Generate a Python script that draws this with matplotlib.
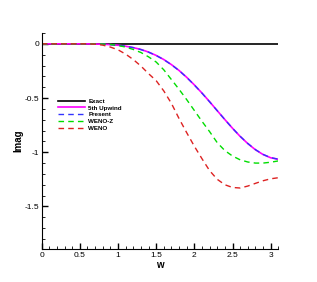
import matplotlib

matplotlib.use("Agg")
import matplotlib.pyplot as plt
from matplotlib.ticker import MultipleLocator, FormatStrFormatter

plt.rcParams["font.family"] = ["Liberation Sans", "DejaVu Sans"]
plt.rcParams["axes.unicode_minus"] = False

w = [0.0, 0.1, 0.2, 0.3, 0.4, 0.5, 0.6, 0.7, 0.8, 0.9, 1.0, 1.1, 1.2, 1.3, 1.4, 1.5,
     1.6, 1.7, 1.8, 1.9, 2.0, 2.1, 2.2, 2.3, 2.4, 2.5, 2.6, 2.7, 2.8, 2.9, 3.0, 3.1]

exact = [0.0] * len(w)

upwind5 = [0.0, 0.0, 0.0, 0.0, -0.0001, -0.0002, -0.0007, -0.0017, -0.0037, -0.0072,
           -0.013, -0.022, -0.035, -0.052, -0.076, -0.107, -0.145, -0.192, -0.246,
           -0.309, -0.379, -0.454, -0.534, -0.617, -0.699, -0.779, -0.854, -0.920,
           -0.977, -1.021, -1.051, -1.065]

present = [0.0, 0.0, 0.0, 0.0, -0.0001, -0.0002, -0.0007, -0.0018, -0.0038, -0.0073,
           -0.013, -0.022, -0.035, -0.053, -0.077, -0.108, -0.146, -0.193, -0.247,
           -0.310, -0.380, -0.455, -0.535, -0.617, -0.699, -0.779, -0.853, -0.919,
           -0.976, -1.020, -1.050, -1.064]

weno_z = [0.0, 0.0, 0.0, 0.0, 0.0, 0.0, 0.0, -0.001, -0.002, -0.006, -0.015, -0.030,
          -0.052, -0.080, -0.120, -0.168, -0.240, -0.330, -0.420, -0.515, -0.615,
          -0.715, -0.810, -0.912, -0.985, -1.035, -1.070, -1.090, -1.100, -1.100,
          -1.092, -1.080]

weno = [0.0, 0.0, 0.0, 0.0, 0.0, 0.0, 0.0, -0.003, -0.012, -0.030, -0.055, -0.095,
        -0.145, -0.205, -0.275, -0.340, -0.435, -0.550, -0.690, -0.820, -0.945,
        -1.060, -1.170, -1.250, -1.300, -1.325, -1.330, -1.312, -1.287, -1.263,
        -1.245, -1.235]

fig = plt.figure(figsize=(3.17, 2.82), dpi=100)
ax = fig.add_axes([0.1315, 0.118, 0.7465, 0.765])

ax.plot(w, exact, color="black", lw=1.2, label="Exact")
ax.plot(w, upwind5, color="#ff00ff", lw=1.2, label="5th Upwind")
ax.plot(w, present, color="#3333ff", lw=1.0, dashes=(4, 3), label="Present")
ax.plot(w, weno_z, color="#00dd00", lw=1.0, dashes=(4, 3), label="WENO-Z")
ax.plot(w, weno, color="#dd2222", lw=1.0, dashes=(4, 3), label="WENO")

ax.set_xlim(0, 3.1)
ax.set_ylim(-1.89, 0.1)
ax.xaxis.set_major_locator(MultipleLocator(0.5))
ax.xaxis.set_minor_locator(MultipleLocator(0.1))
ax.yaxis.set_major_locator(MultipleLocator(0.5))
ax.yaxis.set_minor_locator(MultipleLocator(0.1))
ax.xaxis.set_major_formatter(FormatStrFormatter("%g"))
ax.yaxis.set_major_formatter(FormatStrFormatter("%g"))
ax.tick_params(which="major", direction="in", length=4, width=1, labelsize=6, pad=2)
ax.tick_params(which="minor", direction="in", length=2, width=0.6)
ax.spines["top"].set_visible(False)
ax.spines["right"].set_visible(False)
ax.tick_params(top=False, right=False, which="both")

ax.set_xlabel("w", fontsize=7, fontweight="bold", labelpad=1)
ax.set_ylabel("Imag", fontsize=7, fontweight="bold", labelpad=0.5)

leg = ax.legend(loc="upper left", bbox_to_anchor=(0.06, 0.708), fontsize=4.5,
                frameon=False, handlelength=4.2, handletextpad=0.6,
                labelspacing=0.22, borderaxespad=0)
for t in leg.get_texts():
    t.set_fontweight("bold")

fig.savefig("out.png", dpi=100)
